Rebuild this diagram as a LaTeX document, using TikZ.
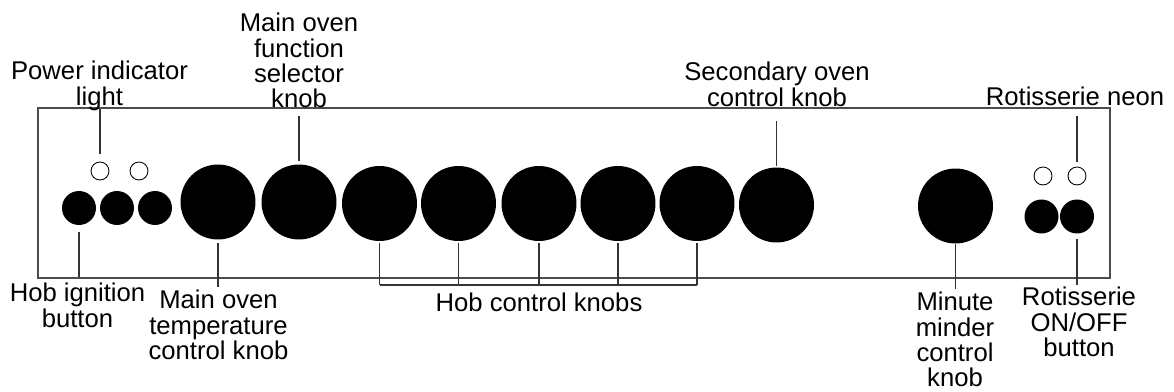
\documentclass[tikz,border=0pt]{standalone}
\usepackage{fontspec}
\setmainfont{Liberation Sans}
\usetikzlibrary{positioning}
\tikzset{
  knob/.style={circle, fill=black, inner sep=0pt, minimum size=1.5cm},
  button/.style={circle, fill=black, inner sep=0pt, minimum size=0.68cm},
  neon/.style={circle, draw=black, line width=0.5pt, fill=white, inner sep=0pt, minimum size=0.36cm},
  leader/.style={draw=black!80, line width=0.6pt},
  lbl/.style={inner sep=0pt, align=center, anchor=north, font=\fontsize{14.6}{14.3}\selectfont}
}

\begin{document}
\begin{tikzpicture}[x=0.02cm, y=0.02cm]
  \useasboundingbox[fill=white] (0,0) rectangle (1174,392);
  % panel
  \draw[black!70, line width=0.9pt] (38,114) rectangle (1110,284);

  % hob ignition buttons and power lights
  \node[button] (ig1) at (79,184) {};
  \node[button] (ig2) at (117,184) {};
  \node[button] (ig3) at (155,184) {};
  \node[neon] (pl1) at (100,221) {};
  \node[neon] (pl2) at (139,221) {};

  % oven and hob knobs
  \node[knob] (temp) at (218,190) {};
  \node[knob] (func) at (299,190) {};
  \foreach \i/\x in {1/379.5, 2/458.5, 3/539, 4/618, 5/697}
    \node[knob] (hob\i) at (\x,188.5) {};
  \node[knob] (sec) at (776.5,187) {};
  \node[knob] (mm) at (955.5,186) {};

  % rotisserie
  \node[button] (rb1) at (1041.5,175.5) {};
  \node[button] (rb2) at (1077,175.5) {};
  \node[neon] (rn1) at (1043,216) {};
  \node[neon] (rn2) at (1077,216) {};

  % labels above
  \draw[leader] (pl1.north) ++(0,8) -- ++(0,45);
  \node[lbl] (lPower) at (99.5,331) {Power indicator\\light};
  \draw[leader] (func.north) ++(0,3.5) -- ++(0,45);
  \node[lbl] (lFunc) at (299,379) {Main oven\\function\\selector\\knob};
  \draw[leader] (sec.north) ++(0,1) -- ++(0,45);
  \node[lbl] (lSec) at (777,330) {Secondary oven\\control knob};
  \draw[leader] (rn2.north) ++(0,5) -- ++(0,46);
  \node[lbl] (lNeon) at (1075,305) {Rotisserie neon};

  % labels below
  \draw[leader] (ig1.south) ++(0,-7) -- ++(0,-45);
  \node[lbl] (lIgn) at (77.5,109) {Hob ignition\\button};
  \draw[leader] (temp.south) ++(0,-3.5) -- ++(0,-44);
  \node[lbl] (lTemp) at (218.5,102) {Main oven\\temperature\\control knob};

  \coordinate (hobbar) at (539,107);
  \foreach \i in {1,...,5}
    \draw[leader] (hob\i.south) ++(0,-2) -- (hob\i.south |- hobbar);
  \draw[leader] (hob1.south |- hobbar) -- (hob5.south |- hobbar);
  \node[lbl, below=0.16cm of hobbar] (lHob) {Hob control knobs};

  \draw[leader] (mm.south) ++(0,-0.5) -- ++(0,-45);
  \node[lbl] (lMinute) at (955,100) {Minute\\minder\\control\\knob};
  \draw[leader] (rb2.south) ++(0,-5.5) -- ++(0,-46);
  \node[lbl] (lRot) at (1079,105) {Rotisserie\\ON/OFF\\button};
\end{tikzpicture}
\end{document}
